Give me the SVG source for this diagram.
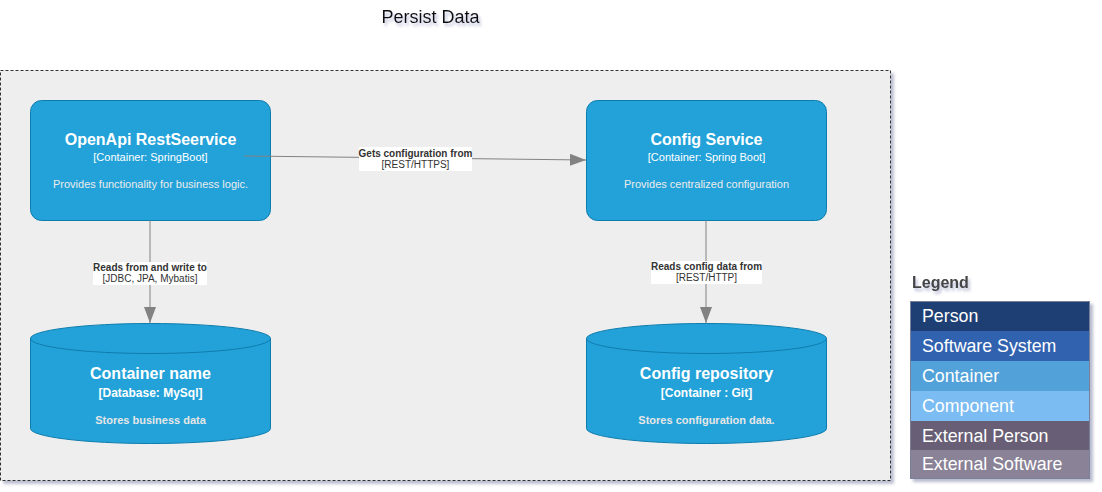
<svg xmlns="http://www.w3.org/2000/svg" width="1102" height="492" viewBox="0 0 1102 492">
<defs>
<filter id="sh" x="-10%" y="-10%" width="130%" height="130%">
<feGaussianBlur in="SourceAlpha" stdDeviation="1.5"/>
<feOffset dx="3" dy="3" result="b"/>
<feFlood flood-color="#8a8fb0" flood-opacity="0.6"/>
<feComposite in2="b" operator="in"/>
<feMerge><feMergeNode/><feMergeNode in="SourceGraphic"/></feMerge>
</filter>
<filter id="tsh" x="-20%" y="-40%" width="140%" height="200%">
<feGaussianBlur in="SourceAlpha" stdDeviation="1.5"/>
<feOffset dx="2" dy="3" result="b"/>
<feFlood flood-color="#7a80b0" flood-opacity="0.5"/>
<feComposite in2="b" operator="in"/>
<feMerge><feMergeNode/><feMergeNode in="SourceGraphic"/></feMerge>
</filter>
<marker id="arr" viewBox="0 0 16 12" refX="16" refY="6" markerWidth="16" markerHeight="12" markerUnits="userSpaceOnUse" orient="auto">
<path d="M0,0 L16,6 L0,12 Z" fill="#828282"/>
</marker>
<clipPath id="lc"><rect x="910" y="301" width="180" height="178"/></clipPath>
</defs>
<style>
text{font-family:"Liberation Sans",Arial,Helvetica,sans-serif}
.box{fill:#23A2D9;stroke:#0E7DAD;stroke-width:1}
.t{font-size:16px;font-weight:bold;fill:#ffffff;text-anchor:middle}
.s{font-size:11px;fill:#ffffff;text-anchor:middle}
.d{font-size:11px;fill:#ececec;text-anchor:middle}
.sb{font-size:12px;font-weight:bold;fill:#ffffff;text-anchor:middle}
.db{font-size:11px;font-weight:bold;fill:#e6e6e6;text-anchor:middle}
.edge{stroke:#828282;stroke-width:1;fill:none;marker-end:url(#arr)}
.lbl{fill:#ffffff}
.lt{font-size:10px;font-weight:bold;fill:#333333;text-anchor:middle}
.ls{font-size:10px;fill:#333333;text-anchor:middle}
.leg{font-size:17.8px;fill:#ffffff}
</style>
<rect width="1102" height="492" fill="#ffffff"/>
<text x="430.5" y="23" font-size="18" fill="#111111" text-anchor="middle" filter="url(#tsh)">Persist Data</text>
<g id="boundary">
<rect x="0.5" y="70.5" width="890" height="410" fill="#eeeeee" stroke="#333333" stroke-dasharray="3,2" filter="url(#sh)"/>
</g>
<g id="openapi">
<rect class="box" x="30.5" y="100.5" width="240" height="120" rx="11"/>
<text class="t" x="150.5" y="145">OpenApi RestSeervice</text>
<text class="s" x="150.5" y="161">[Container: SpringBoot]</text>
<text class="d" x="150.5" y="188">Provides functionality for business logic.</text>
</g>
<g id="config">
<rect class="box" x="586.5" y="100.5" width="240" height="120" rx="11"/>
<text class="t" x="706.5" y="145">Config Service</text>
<text class="s" x="706.5" y="161">[Container: Spring Boot]</text>
<text class="d" x="706.5" y="188">Provides centralized configuration</text>
</g>
<g id="mysql">
<path class="box" d="M30.5,338.5 A120,15 0 0 1 270.5,338.5 L270.5,428.5 A120,15 0 0 1 30.5,428.5 Z"/>
<path d="M30.5,338.5 A120,15 0 0 0 270.5,338.5" fill="none" stroke="#0E7DAD"/>
<text class="t" x="150.5" y="379">Container name</text>
<text class="sb" x="150.5" y="397">[Database: MySql]</text>
<text class="db" x="150.5" y="424">Stores business data</text>
</g>
<g id="configrepo">
<path class="box" d="M586.5,338.5 A120,15 0 0 1 826.5,338.5 L826.5,428.5 A120,15 0 0 1 586.5,428.5 Z"/>
<path d="M586.5,338.5 A120,15 0 0 0 826.5,338.5" fill="none" stroke="#0E7DAD"/>
<text class="t" x="706.5" y="379">Config repository</text>
<text class="sb" x="706.5" y="397">[Container : Git]</text>
<text class="db" x="706.5" y="424">Stores configuration data.</text>
</g>
<g id="edges">
<path class="edge" d="M244,156 L586,160"/>
<rect class="lbl" x="359" y="147" width="113" height="24"/>
<text class="lt" x="415.5" y="157">Gets configuration from</text>
<text class="ls" x="415.5" y="168">[REST/HTTPS]</text>
<path class="edge" d="M150,220.5 L150,323"/>
<rect class="lbl" x="93" y="262" width="114" height="23"/>
<text class="lt" x="150" y="271">Reads from and write to</text>
<text class="ls" x="150" y="282">[JDBC, JPA, Mybatis]</text>
<path class="edge" d="M706,220.5 L706,323"/>
<rect class="lbl" x="651" y="261" width="111" height="23"/>
<text class="lt" x="706.5" y="270">Reads config data from</text>
<text class="ls" x="706.5" y="281">[REST/HTTP]</text>
</g>
<g id="legend">
<text x="912" y="288" font-size="16" font-weight="bold" fill="#444444" filter="url(#tsh)">Legend</text>
<rect x="910" y="301" width="180" height="178" fill="#8A8296" filter="url(#sh)"/>
<g clip-path="url(#lc)">
<rect x="910" y="301" width="180" height="30" fill="#1E3F73"/>
<rect x="910" y="331" width="180" height="30" fill="#3162B0"/>
<rect x="910" y="361" width="180" height="30" fill="#52A2D9"/>
<rect x="910" y="391" width="180" height="30" fill="#7BBCF2"/>
<rect x="910" y="421" width="180" height="29" fill="#685F76"/>
<rect x="910" y="450" width="180" height="29" fill="#8A8296"/>
<text class="leg" x="922" y="322">Person</text>
<text class="leg" x="922" y="352">Software System</text>
<text class="leg" x="922" y="382">Container</text>
<text class="leg" x="922" y="412">Component</text>
<text class="leg" x="922" y="442">External Person</text>
<text class="leg" x="922" y="470">External Software</text>
<text class="leg" x="922" y="491">System</text>
</g>
<rect x="910.5" y="301.5" width="179" height="177" fill="none" stroke="#7a7f9a" stroke-width="1"/>
</g>
</svg>
